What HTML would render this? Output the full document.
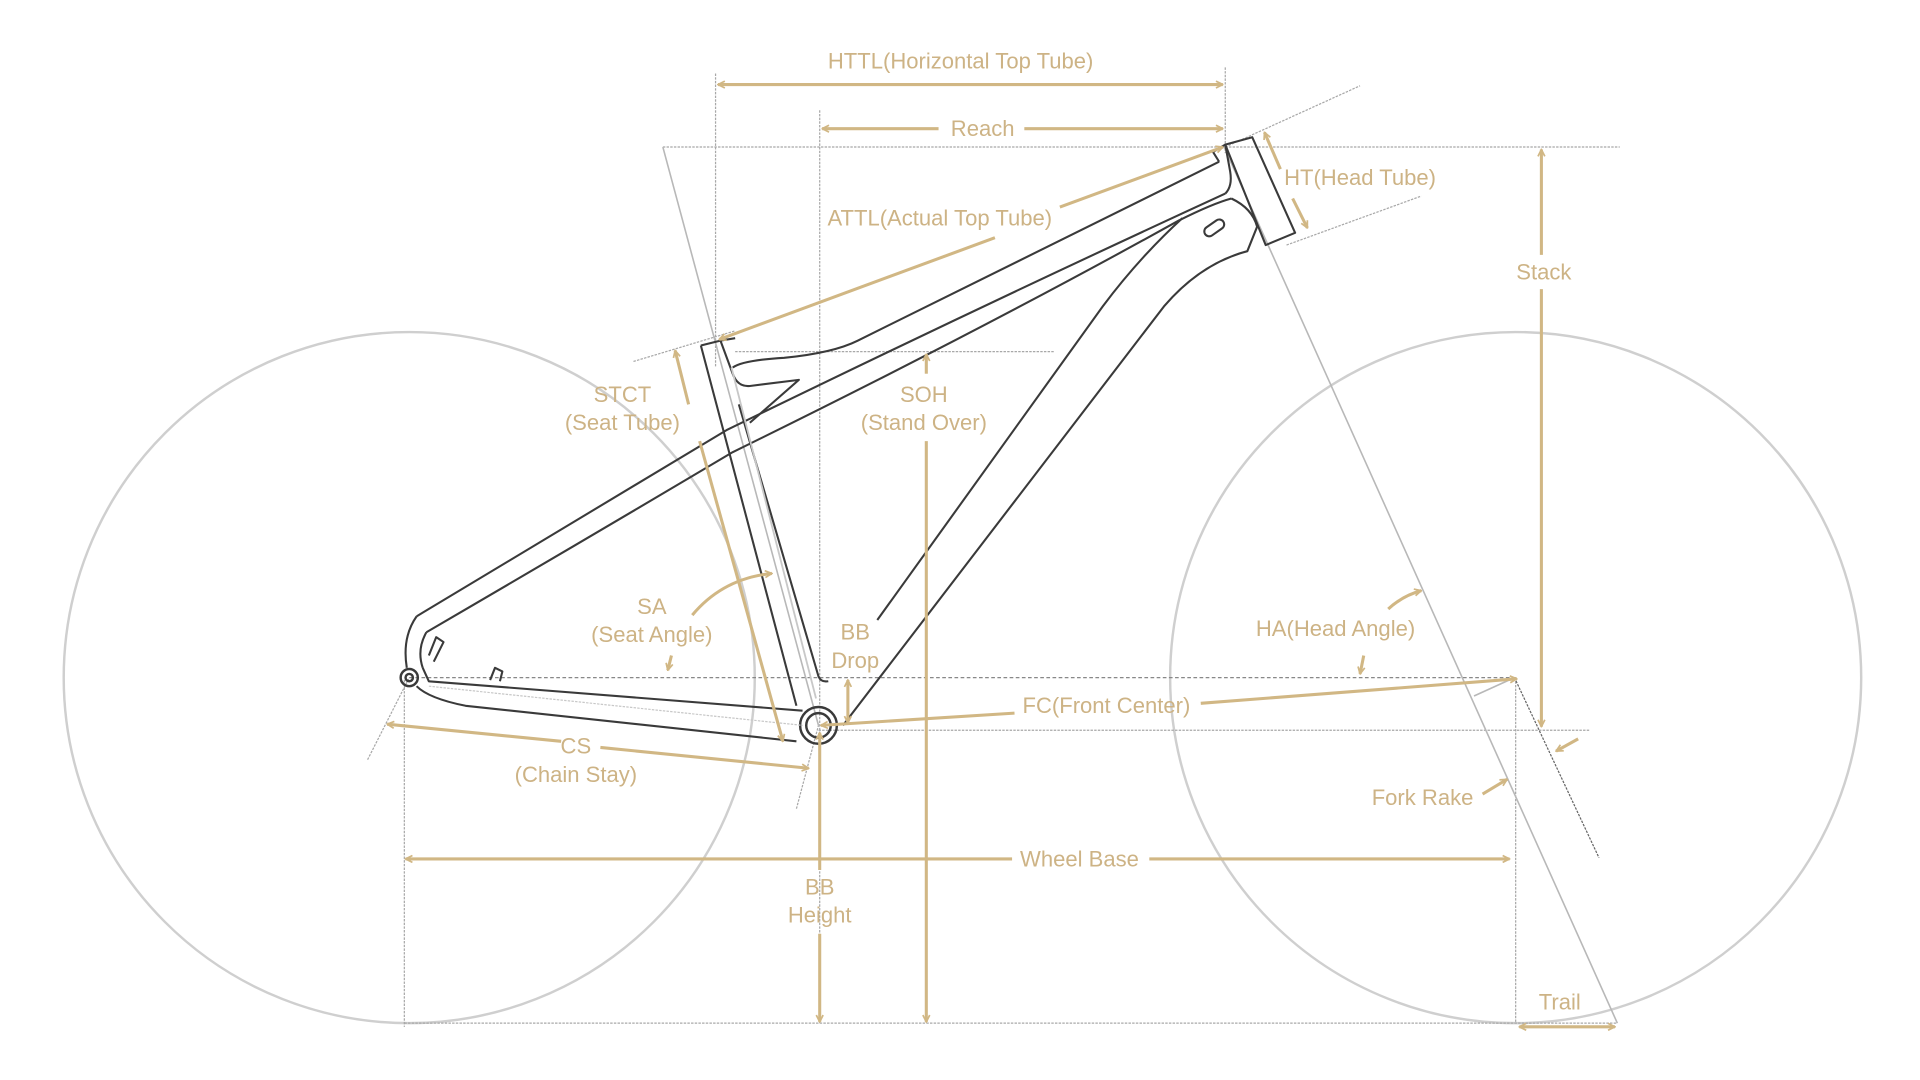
<!DOCTYPE html>
<html><head><meta charset="utf-8"><style>
html,body{margin:0;padding:0;background:#fff;}
svg{display:block;}
text{font-family:"Liberation Sans",sans-serif;font-size:18px;fill:#cdb385;text-anchor:middle;}
</style></head><body>
<svg width="1920" height="1080" viewBox="0 0 1567 881.4" preserveAspectRatio="none" xmlns="http://www.w3.org/2000/svg">
<defs>
<marker id="a" viewBox="0 0 10 10" refX="9" refY="5" markerWidth="7" markerHeight="7" orient="auto-start-reverse" markerUnits="userSpaceOnUse">
<path d="M1,1 L9,5 L1,9" fill="none" stroke="#d1b784" stroke-width="2"/>
</marker>
</defs>
<g fill="none" stroke="#cfcfcf" stroke-width="2">
<circle cx="334" cy="553" r="282"/>
<circle cx="1237" cy="553" r="282"/>
</g>
<g fill="none" stroke="#a8a8a8" stroke-width="1" stroke-dasharray="2 1">
<line x1="541" y1="120" x2="1322" y2="120"/>
<line x1="584" y1="60" x2="584" y2="300"/>
<line x1="669" y1="90" x2="669" y2="835"/>
<line x1="1000" y1="55" x2="1000" y2="125"/>
<line x1="330" y1="555" x2="330" y2="838"/>
<line x1="1237" y1="553" x2="1237" y2="835"/>
<line x1="600" y1="287" x2="860" y2="287"/>
<line x1="668" y1="596" x2="1298" y2="596"/>
<line x1="330" y1="835" x2="1320" y2="835"/>
<line x1="334" y1="553" x2="1237" y2="553" stroke="#888" stroke-dasharray="3 2"/>
<line x1="517" y1="295" x2="600" y2="270"/>
<line x1="1000" y1="120" x2="1110" y2="70"/>
<line x1="1050" y1="200" x2="1160" y2="160"/>
<line x1="1236" y1="553" x2="1305" y2="700" stroke="#666"/>
<line x1="300" y1="620" x2="334" y2="553"/>
<line x1="650" y1="660" x2="668" y2="592"/>
</g>
<g fill="none" stroke="#b8b8b8" stroke-width="1.3">
<line x1="541" y1="120" x2="668" y2="592"/>
<line x1="999" y1="120" x2="1320" y2="835"/>
<line x1="1236" y1="553" x2="1203" y2="568"/>
</g>
<g fill="none" stroke="#3a3a3a" stroke-width="1.7" stroke-linejoin="round">
<path d="M572,282 L650,576"/>
<path d="M588,278 L600,276"/>
<path d="M572,282 L588,278 L598,305"/>
<path d="M598,300 Q606,294 640,292 Q680,288 700,278 L995,132"/>
<path d="M995,132 L990,124 L1000,118 L1004,140 Q1006,152 1000,158"/>
<path d="M598,305 Q602,316 612,315 L652,310 L612,345"/>
<path d="M603,330 L668,552 Q670,557 676,556"/>
<path d="M340,503 L345,500 Q470,425 593,351 Q800,250 1000,158"/>
<path d="M348,516 Q475,442 598,369 Q800,270 962,180 Q990,166 1005,162"/>
<path d="M965,178 Q930,210 900,250 L716,506"/>
<path d="M1005,162 Q1022,170 1026,185 L1018,205 Q980,215 950,250 L688,592"/>
<path d="M1000,118 L1022,112 L1057,190 L1033,200 Z"/>
<rect x="982" y="182" width="18" height="8" rx="4" transform="rotate(-35 991 186)"/>
<path d="M340,503 Q328,520 332,545 M348,516 Q340,530 345,545"/>
<path d="M345,545 L350,556 L655,580"/>
<path d="M340,560 Q350,570 380,576 L650,605"/>
<path d="M400,555 L404,545 L410,548 L408,556"/>
<path d="M350,535 L356,520 L362,524 L354,540"/>
</g>
<g fill="none" stroke="#3a3a3a" stroke-width="2">
<circle cx="334" cy="553" r="7"/>
<circle cx="334" cy="553" r="3"/>
<circle cx="668" cy="592" r="15"/>
<circle cx="668" cy="592" r="10"/>
</g>
<line x1="597" y1="300" x2="666" y2="570" stroke="#c8c8c8" stroke-width="1.5"/>
<line x1="350" y1="560" x2="655" y2="592" stroke="#c8c8c8" stroke-width="1" stroke-dasharray="2 1"/>
<g fill="none" stroke="#d1b784" stroke-width="2.5">
<line x1="586" y1="69" x2="998" y2="69" marker-start="url(#a)" marker-end="url(#a)"/>
<line x1="671" y1="105" x2="766" y2="105" marker-start="url(#a)"/>
<line x1="836" y1="105" x2="998" y2="105" marker-end="url(#a)"/>
<line x1="865" y1="169" x2="998" y2="120" marker-end="url(#a)"/>
<line x1="812" y1="194" x2="587" y2="277" marker-end="url(#a)"/>
<line x1="1045" y1="138" x2="1032" y2="108" marker-end="url(#a)"/>
<line x1="1055" y1="162" x2="1067" y2="186" marker-end="url(#a)"/>
<line x1="1258" y1="122" x2="1258" y2="208" marker-start="url(#a)"/>
<line x1="1258" y1="236" x2="1258" y2="593" marker-end="url(#a)"/>
<line x1="562" y1="330" x2="551" y2="286" marker-end="url(#a)"/>
<line x1="571" y1="360" x2="639" y2="605" marker-end="url(#a)"/>
<line x1="756" y1="305" x2="756" y2="289" marker-end="url(#a)"/>
<line x1="756" y1="360" x2="756" y2="834" marker-end="url(#a)"/>
<path d="M565,502 Q590,472 630,468" marker-end="url(#a)"/>
<line x1="548" y1="535" x2="545" y2="547" marker-end="url(#a)"/>
<line x1="692" y1="555" x2="692" y2="590" marker-start="url(#a)" marker-end="url(#a)"/>
<line x1="828" y1="582" x2="670" y2="592" marker-end="url(#a)"/>
<line x1="980" y1="574" x2="1238" y2="554" marker-end="url(#a)"/>
<line x1="458" y1="605" x2="316" y2="591" marker-end="url(#a)"/>
<line x1="490" y1="610" x2="660" y2="627" marker-end="url(#a)"/>
<line x1="331" y1="701" x2="826" y2="701" marker-start="url(#a)"/>
<line x1="938" y1="701" x2="1232" y2="701" marker-end="url(#a)"/>
<line x1="669" y1="598" x2="669" y2="710" marker-start="url(#a)"/>
<line x1="669" y1="762" x2="669" y2="834" marker-end="url(#a)"/>
<path d="M1133,497 Q1145,486 1160,482" marker-end="url(#a)"/>
<line x1="1113" y1="535" x2="1110" y2="550" marker-end="url(#a)"/>
<line x1="1210" y1="648" x2="1230" y2="636" marker-end="url(#a)"/>
<line x1="1288" y1="603" x2="1270" y2="613" marker-end="url(#a)"/>
<line x1="1240" y1="838" x2="1318" y2="838" marker-start="url(#a)" marker-end="url(#a)"/>
</g>
<text x="784" y="56">HTTL(Horizontal Top Tube)</text>
<text x="802" y="111">Reach</text>
<text x="767" y="184">ATTL(Actual Top Tube)</text>
<text x="1110" y="151">HT(Head Tube)</text>
<text x="1260" y="228">Stack</text>
<text x="508" y="328">STCT</text>
<text x="508" y="351">(Seat Tube)</text>
<text x="754" y="328">SOH</text>
<text x="754" y="351">(Stand Over)</text>
<text x="532" y="501">SA</text>
<text x="532" y="524">(Seat Angle)</text>
<text x="698" y="522">BB</text>
<text x="698" y="545">Drop</text>
<text x="1090" y="519">HA(Head Angle)</text>
<text x="903" y="582">FC(Front Center)</text>
<text x="470" y="615">CS</text>
<text x="470" y="638">(Chain Stay)</text>
<text x="1161" y="657">Fork Rake</text>
<text x="881" y="707">Wheel Base</text>
<text x="669" y="730">BB</text>
<text x="669" y="753">Height</text>
<text x="1273" y="824">Trail</text>
</svg>
</body></html>
